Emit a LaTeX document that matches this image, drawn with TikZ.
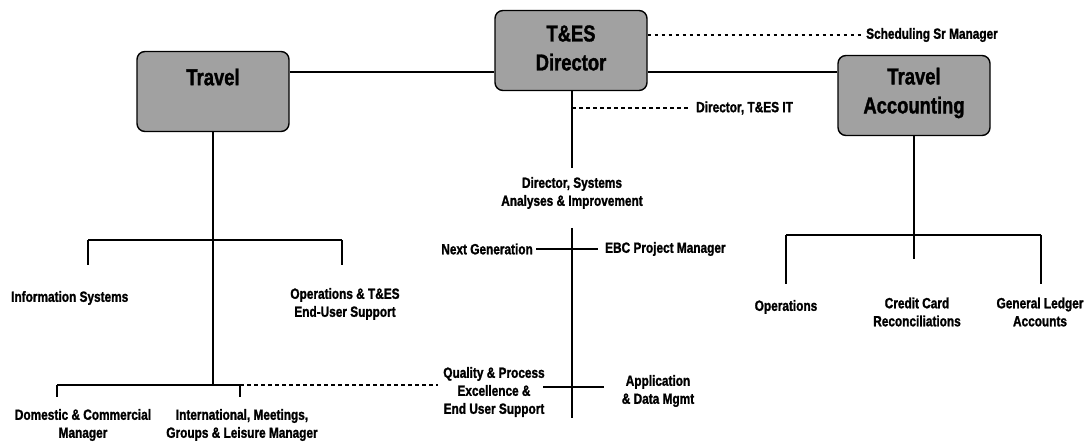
\documentclass[tikz,border=0pt]{standalone}
\usepackage{fontspec}
\newfontfamily\orgfont{Liberation Sans}[FakeStretch=0.8,BoldFeatures={FakeBold=1.4}]
\begin{document}
\begin{tikzpicture}[x=1pt,y=-1pt,
  box/.style={draw=black,line width=1.4pt,fill=black!37,rounded corners=8pt,
    minimum width=152pt,minimum height=80pt,inner sep=0pt},
  title/.style={font=\orgfont\bfseries\fontsize{23}{29}\selectfont,align=center,inner sep=0pt},
  lbl/.style={font=\orgfont\bfseries\fontsize{14.8}{18}\selectfont,align=center,inner sep=3pt},
  trunk/.style={line width=2.6pt},
  bar/.style={line width=2.2pt},
  drop/.style={line width=1.4pt},
  cross/.style={line width=1.1pt},
  dot/.style={line width=1.3pt,dash pattern=on 3.5pt off 3.5pt}]
\useasboundingbox (0,0) rectangle (1091,443);

% boxes
\node[box] (travel) at (213,91.5) {};
\node[title] (travelT) at (213,77) {Travel};
\node[box] (director) at (571,50.5) {};
\node[title] (directorT) at (571,48) {T\&ES\\Director};
\node[box] (acct) at (914,95.5) {};
\node[title] (acctT) at (914,93) {Travel\\Accounting};

% labels
\node[lbl,anchor=west] (sched) at (863,35) {Scheduling Sr Manager};
\node[lbl,anchor=west] (dirit) at (693,108) {Director, T\&ES IT};
\node[lbl] (dsys) at (572,193) {Director, Systems\\Analyses \& Improvement};
\node[lbl,anchor=east] (nextgen) at (536,249) {Next Generation};
\node[lbl,anchor=west] (ebc) at (602,249) {EBC Project Manager};
\node[lbl] (quality) at (494,392) {Quality \& Process\\Excellence \&\\End User Support};
\node[lbl] (appl) at (658,391) {Application\\\& Data Mgmt};
\node[lbl,anchor=west] (infosys) at (8,298) {Information Systems};
\node[lbl] (opsend) at (345,304) {Operations \& T\&ES\\End-User Support};
\node[lbl] (domestic) at (83,425) {Domestic \& Commercial\\Manager};
\node[lbl] (intl) at (242,425) {International, Meetings,\\Groups \& Leisure Manager};
\node[lbl] (ops) at (786,307) {Operations};
\node[lbl] (ccr) at (917,312) {Credit Card\\Reconciliations};
\node[lbl] (gla) at (1040,312) {General Ledger\\Accounts};

% helper points
\coordinate (top) at (0,72);
\coordinate (dirv) at (572,168);
\coordinate (lvtop) at (572,228);
\coordinate (lvbot) at (572,418);
\coordinate (aplL) at (543,387);
\coordinate (aplR) at (604,387);
\coordinate (tvbot) at (213,385);
\coordinate (ubL) at (88,240);
\coordinate (ubR) at (342,240);
\coordinate (ubLd) at (88,265);
\coordinate (ubRd) at (342,265);
\coordinate (lbL) at (57,385);
\coordinate (lbR) at (240,385);
\coordinate (lbLd) at (57,397);
\coordinate (lbRd) at (240,397);
\coordinate (avbot) at (914,259);
\coordinate (abL) at (786,235);
\coordinate (abR) at (1041,235);
\coordinate (abLd) at (786,284);
\coordinate (abRd) at (1041,284);

% top links
\draw[trunk] (travel.east |- top) -- (director.west |- top);
\draw[trunk] (director.east |- top) -- (acct.west |- top);
\draw[dot] (director.east |- sched) -- (sched.west);
\draw[trunk] (director.south -| dirv) -- (dirv);
\draw[dot] (dirv |- dirit) -- ([xshift=-3pt]dirit.west);

% systems branch
\draw[trunk] (lvtop) -- (lvbot);
\draw[cross] (nextgen.east) -- ([xshift=-4pt]ebc.west);
\draw[cross] (aplL) -- (aplR);

% travel branch
\draw[trunk] (travel.south) -- (tvbot);
\draw[bar] (ubL) -- (ubR);
\draw[drop] (ubL) -- (ubLd);
\draw[drop] (ubR) -- (ubRd);
\draw[bar] (lbL) -- (lbR);
\draw[drop] (lbL) -- (lbLd);
\draw[drop] (lbR) -- (lbRd);
\draw[dot] (lbR) -- ([xshift=-2pt]quality.west |- lbR);

% accounting branch
\draw[trunk] (acct.south) -- (avbot);
\draw[bar] (abL) -- (abR);
\draw[drop] (abL) -- (abLd);
\draw[drop] (abR) -- (abRd);
\end{tikzpicture}
\end{document}
